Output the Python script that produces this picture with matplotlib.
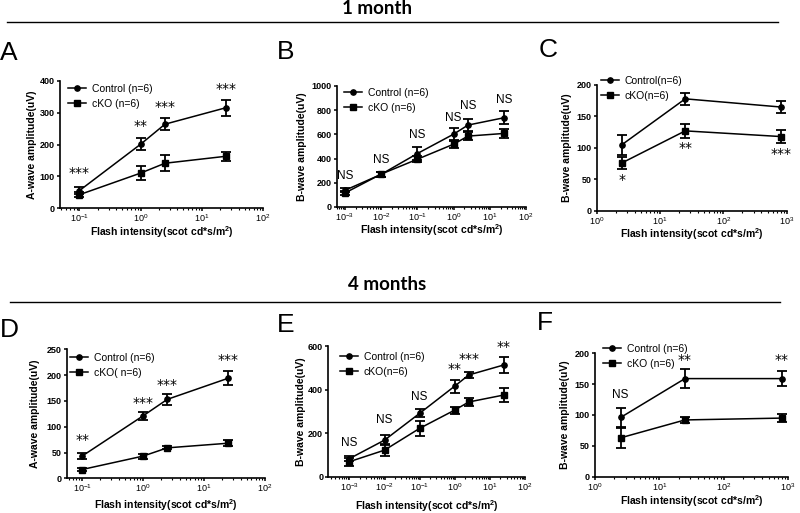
import matplotlib
matplotlib.use('Agg')
import matplotlib.pyplot as plt
from matplotlib.lines import Line2D
from matplotlib.ticker import LogLocator, NullFormatter, FixedLocator

plt.rcParams['font.family'] = ['Liberation Sans', 'DejaVu Sans']
plt.rcParams['mathtext.fontset'] = 'custom'
plt.rcParams['mathtext.rm'] = 'Liberation Sans:bold'
plt.rcParams['mathtext.it'] = 'Liberation Sans:bold:italic'
plt.rcParams['mathtext.bf'] = 'Liberation Sans:bold'
plt.rcParams['mathtext.default'] = 'rm'

# ---------------- data ----------------
# Panel A (1 month, A-wave)
x_a = [0.1, 1, 2.5, 25]
a_ctrl = [55, 201, 264, 316]
a_ctrl_err = [10, 19, 18, 25]
a_cko = [42, 110, 141, 163]
a_cko_err = [8, 21, 25, 14]
a_sig = ['***', '**', '***', '***']
a_sig_y = [110, 258, 318, 376]

# Panel B (1 month, B-wave scotopic)
x_b = [0.001, 0.01, 0.1, 1, 2.5, 25]
b_ctrl = [138, 270, 442, 602, 677, 738]
b_ctrl_err = [15, 20, 52, 52, 50, 55]
b_cko = [116, 272, 395, 519, 586, 608]
b_cko_err = [20, 20, 25, 28, 30, 35]
b_sig = ['NS', 'NS', 'NS', 'NS', 'NS', 'NS']
b_sig_y = [254, 392, 594, 732, 834, 884]

# Panel C (1 month, B-wave photopic)
x_c = [2.5, 25, 800]
c_ctrl = [105, 178, 165]
c_ctrl_err = [16, 10, 10]
c_cko = [76, 127, 118]
c_cko_err = [10, 11, 10]
c_sig = ['*', '**', '***']
c_sig_y = [49, 99, 90]

# Panel D (4 months, A-wave)
x_d = [0.1, 1, 2.5, 25]
d_ctrl = [43, 121, 153, 194]
d_ctrl_err = [6, 8, 11, 13]
d_cko = [17, 43, 59, 68]
d_cko_err = [3, 5, 3, 6]
d_sig = ['**', '***', '***', '***']
d_sig_y = [74, 145, 181, 229]

# Panel E (4 months, B-wave scotopic)
x_e = [0.001, 0.01, 0.1, 1, 2.5, 25]
e_ctrl = [83, 168, 291, 416, 467, 513]
e_ctrl_err = [12, 22, 18, 30, 12, 35]
e_cko = [69, 122, 222, 306, 343, 375]
e_cko_err = [18, 28, 35, 16, 18, 33]
e_sig = ['NS', 'NS', 'NS', '**', '***', '**']
e_sig_y = [153, 260, 367, 494, 540, 594]

# Panel F (4 months, B-wave photopic)
x_f = [2.5, 25, 800]
f_ctrl = [96, 159, 159]
f_ctrl_err = [16, 15, 12]
f_cko = [63, 92, 95]
f_cko_err = [16, 5, 7]
f_sig = ['NS', '**', '**']
f_sig_y = [132, 189, 189]

W, H = 800, 513
fig = plt.figure(figsize=(W / 100, H / 100), dpi=100)


def px_axes(l, r, t, b):
    return fig.add_axes([l / W, 1 - b / H, (r - l) / W, (b - t) / H])


def panel(rect, xs, ctrl, ctrl_err, cko, cko_err, sig, sig_y, xlim, ymax, ystep,
          ylabel, lab_ctrl, lab_cko, leg_xy, letter, letter_xy, xlab_off, ylab_off):
    l, r, t, b = rect
    ax = px_axes(*rect)
    ax.set_xscale('log')
    ekw = dict(color='black', lw=1.1, capsize=3.5, elinewidth=1.3, capthick=1.3)
    ax.errorbar(xs, ctrl, yerr=ctrl_err, marker='o', ms=3.8, **ekw)
    ax.errorbar(xs, cko, yerr=cko_err, marker='s', ms=4.2, **ekw)
    for x, s, y in zip(xs, sig, sig_y):
        if s == 'NS':
            ax.text(x, y, s, ha='center', va='center', fontsize=8.5)
        else:
            ax.text(x, y, s, ha='center', va='center', fontsize=10,
                    fontfamily='DejaVu Sans')
    ax.set_xlim(*xlim)
    ax.set_ylim(0, ymax)
    ticks = list(range(0, ymax + 1, ystep))
    ax.yaxis.set_major_locator(FixedLocator(ticks))
    ax.set_yticklabels([str(v) for v in ticks])
    ax.xaxis.set_major_locator(LogLocator(base=10, numticks=20))
    ax.xaxis.set_minor_locator(LogLocator(base=10, subs=range(2, 10), numticks=50))
    ax.xaxis.set_minor_formatter(NullFormatter())
    for s in ['top', 'right']:
        ax.spines[s].set_visible(False)
    for s in ['left', 'bottom']:
        ax.spines[s].set_linewidth(1.2)
    ax.tick_params(axis='both', which='major', direction='out', length=2.5, width=1.1,
                   labelsize=6.5, pad=1.2)
    ax.tick_params(axis='x', which='major', pad=0.6)
    ax.tick_params(axis='x', which='minor', direction='out', length=1.6, width=0.8)
    for lbl in ax.get_yticklabels():
        lbl.set_fontweight('bold')
    ax.set_xlabel('Flash intensity(scot cd*s/m$^{2}$)', fontsize=7.5,
                  fontweight='bold', va='center')
    ax.xaxis.set_label_coords(0.5, -xlab_off / (b - t))
    ax.set_ylabel(ylabel, fontsize=7.5, fontweight='bold', va='center')
    ax.yaxis.set_label_coords(-ylab_off / (r - l), 0.5)
    handles = [Line2D([], [], color='black', lw=1.1, marker='o', ms=3.8),
               Line2D([], [], color='black', lw=1.1, marker='s', ms=4.2)]
    ax.legend(handles, [lab_ctrl, lab_cko], loc='upper left',
              bbox_to_anchor=(leg_xy[0] / W, 1 - leg_xy[1] / H),
              bbox_transform=fig.transFigure, frameon=False, fontsize=7.5,
              handlelength=1.7, handletextpad=0.6, labelspacing=0.45,
              borderpad=0, borderaxespad=0)
    fig.text(letter_xy[0] / W, 1 - letter_xy[1] / H, letter, fontsize=19,
             ha='left', va='center')
    return ax


panel((60, 263, 81, 208), x_a, a_ctrl, a_ctrl_err, a_cko, a_cko_err, a_sig, a_sig_y,
      (0.048, 100), 400, 100, 'A-wave amplitude(uV)', 'Control (n=6)', 'cKO (n=6)',
      (68, 84), 'A', (0, 53), 24, 28)
panel((336.7, 526, 86, 207), x_b, b_ctrl, b_ctrl_err, b_cko, b_cko_err, b_sig, b_sig_y,
      (5.9e-4, 100), 1000, 200, 'B-wave amplitude(uV)', 'Control (n=6)', 'cKO (n=6)',
      (344, 88), 'B', (277, 52), 23, 34.5)
panel((596.7, 786.7, 85, 210.7), x_c, c_ctrl, c_ctrl_err, c_cko, c_cko_err, c_sig, c_sig_y,
      (1, 1000), 200, 50, 'B-wave amplitude(uV)', 'Control(n=6)', 'cKO(n=6)',
      (601, 76), 'C', (539, 50), 23.5, 29.7)
panel((66.7, 265, 349.3, 478.3), x_d, d_ctrl, d_ctrl_err, d_cko, d_cko_err, d_sig, d_sig_y,
      (0.056, 100), 250, 50, 'A-wave amplitude(uV)', 'Control (n=6)', 'cKO( n=6)',
      (70, 353), 'D', (0, 330), 27, 31.7)
panel((328.3, 525, 346, 476.7), x_e, e_ctrl, e_ctrl_err, e_cko, e_cko_err, e_sig, e_sig_y,
      (2.5e-4, 100), 600, 200, 'B-wave amplitude(uV)', 'Control (n=6)', 'cKO(n=6)',
      (340, 352), 'E', (277, 325), 29, 27)
panel((595, 788, 353.3, 476.7), x_f, f_ctrl, f_ctrl_err, f_cko, f_cko_err, f_sig, f_sig_y,
      (1, 1000), 200, 50, 'B-wave amplitude(uV)', 'Control (n=6)', 'cKO (n=6)',
      (603, 344), 'F', (537, 323), 24.5, 30)

# section titles and rules
fig.text(377 / W, 1 - 9 / H, '1 month', fontsize=13.5, fontweight='bold',
         fontfamily='Lato', ha='center', va='center')
fig.text(387 / W, 1 - 284 / H, '4 months', fontsize=13.5, fontweight='bold',
         fontfamily='Lato', ha='center', va='center')
fig.add_artist(Line2D([7 / W, 778 / W], [1 - 22 / H, 1 - 22 / H], color='black', lw=1.0))
fig.add_artist(Line2D([10 / W, 780 / W], [1 - 301.7 / H, 1 - 301.7 / H], color='black', lw=1.0))

fig.savefig('out.png', dpi=100)
